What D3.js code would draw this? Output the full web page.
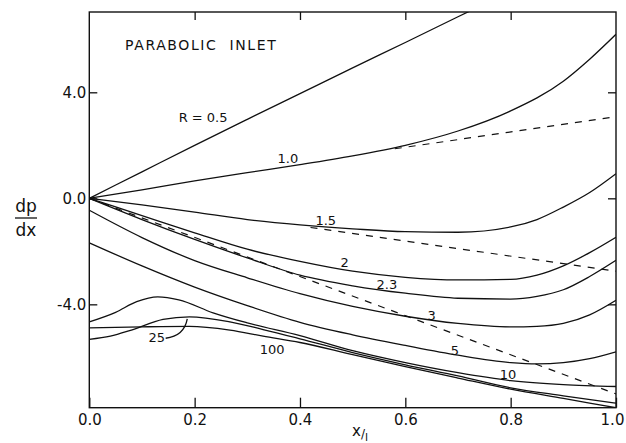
<!DOCTYPE html>
<html lang="en">
<head>
<meta charset="UTF-8">
<script src="https://d3js.org/d3.v7.min.js"></script>
<style>
  body { margin: 0; background: #fff; }
  text { font-family: "DejaVu Sans", sans-serif; fill: #111; }
</style>
</head>
<body>
<script>
// curves: [x/l, dp/dx]
const r0_5 = [[0,0],[0.1,1.0],[0.2,2.0],[0.3,2.98],[0.4,3.95],[0.5,4.92],[0.6,5.88],[0.7,6.85],[0.75,7.33]];
const r1_0 = [[0,0],[0.1,0.32],[0.2,0.66],[0.3,0.97],[0.4,1.27],[0.5,1.6],[0.6,2.0],[0.7,2.54],[0.8,3.3],[0.9,4.42],[0.95,5.25],[1.0,6.19]];
const r1_5 = [[0,0],[0.1,-0.25],[0.2,-0.52],[0.3,-0.8],[0.4,-1.0],[0.5,-1.15],[0.6,-1.26],[0.7,-1.28],[0.8,-1.08],[0.85,-0.8],[0.9,-0.33],[0.95,0.22],[1.0,0.93]];
const r2_0 = [[0,0],[0.1,-0.65],[0.2,-1.3],[0.3,-1.92],[0.4,-2.38],[0.5,-2.75],[0.6,-2.98],[0.7,-3.08],[0.8,-3.06],[0.85,-2.9],[0.9,-2.55],[0.95,-2.05],[1.0,-1.47]];
const r2_3 = [[0,0],[0.1,-0.8],[0.2,-1.55],[0.3,-2.25],[0.4,-2.9],[0.5,-3.3],[0.6,-3.58],[0.7,-3.77],[0.8,-3.8],[0.85,-3.7],[0.9,-3.45],[0.95,-2.95],[1.0,-2.34]];
const r3_0 = [[0,-0.45],[0.1,-1.48],[0.2,-2.35],[0.3,-3.0],[0.4,-3.6],[0.5,-4.08],[0.6,-4.45],[0.7,-4.72],[0.8,-4.85],[0.85,-4.83],[0.9,-4.72],[0.95,-4.4],[1.0,-3.85]];
const r5_0 = [[0,-1.68],[0.1,-2.55],[0.2,-3.35],[0.3,-4.05],[0.4,-4.68],[0.5,-5.15],[0.6,-5.55],[0.7,-5.92],[0.8,-6.2],[0.85,-6.25],[0.9,-6.2],[0.95,-6.05],[1.0,-5.79]];
const r10 = [[0,-4.66],[0.05,-4.3],[0.09,-3.9],[0.13,-3.72],[0.17,-3.83],[0.235,-4.32],[0.3,-4.7],[0.4,-5.18],[0.5,-5.75],[0.6,-6.2],[0.7,-6.58],[0.8,-6.88],[0.9,-7.03],[1.0,-7.1]];
const r25 = [[0,-5.32],[0.04,-5.2],[0.08,-4.97],[0.14,-4.57],[0.19,-4.47],[0.267,-4.66],[0.33,-4.95],[0.4,-5.3],[0.5,-5.82],[0.6,-6.28],[0.7,-6.7],[0.8,-7.15],[0.9,-7.45],[1.0,-7.73]];
const r100 = [[0,-4.89],[0.1,-4.85],[0.19,-4.83],[0.267,-4.97],[0.33,-5.2],[0.4,-5.44],[0.5,-5.9],[0.6,-6.35],[0.7,-6.78],[0.8,-7.2],[0.9,-7.55],[1.0,-7.9]];

// dashed reference lines
const dash1_0 = [[0.58,1.87],[1.0,3.08]];
const dash1_5 = [[0.42,-1.1],[1.0,-2.75]];
const dashAll = [[0,0],[1.0,-7.38]];

const xTicks = [0, 0.2, 0.4, 0.6, 0.8, 1.0];
const yTicks = [4, 0, -4];

const labels = [
  ["R = 0.5", 0.216, 3.05], ["1.0", 0.377, 1.5], ["1.5", 0.449, -0.83],
  ["2", 0.485, -2.41], ["2.3", 0.565, -3.24], ["3", 0.65, -4.41],
  ["5", 0.694, -5.73], ["10", 0.795, -6.63], ["25", 0.128, -5.27], ["100", 0.347, -5.69]
];

const W = 626, H = 443;
const margin = {left: 89.3, right: 10, top: 12, bottom: 35.3};

const svg = d3.select("body").append("svg").attr("width", W).attr("height", H);

const x = d3.scaleLinear().domain([0, 1]).range([margin.left, W - margin.right]);
const y = d3.scaleLinear().domain([-7.9, 7.03]).range([H - margin.bottom, margin.top]);

const fmt = d => d3.format(".1f")(d).replace("−", "-");

svg.append("clipPath").attr("id", "plot")
  .append("rect")
  .attr("x", x(0)).attr("y", y(7.03))
  .attr("width", x(1) - x(0)).attr("height", y(-7.9) - y(7.03));

const line = d3.line().x(d => x(d[0])).y(d => y(d[1])).curve(d3.curveMonotoneX);

const plot = svg.append("g").attr("clip-path", "url(#plot)");

[r0_5, r1_0, r1_5, r2_0, r2_3, r3_0, r5_0, r10, r25, r100].forEach(c => {
  plot.append("path").attr("d", line(c))
    .attr("fill", "none").attr("stroke", "#111").attr("stroke-width", 1.3);
});

[dash1_0, dash1_5, dashAll].forEach(c => {
  plot.append("path").attr("d", line(c))
    .attr("fill", "none").attr("stroke", "#111").attr("stroke-width", 1.2)
    .attr("stroke-dasharray", "7,7");
});

// frame
svg.append("rect")
  .attr("x", x(0)).attr("y", y(7.03))
  .attr("width", x(1) - x(0)).attr("height", y(-7.9) - y(7.03))
  .attr("fill", "none").attr("stroke", "#111").attr("stroke-width", 1.4);

// axes with inward ticks
svg.append("g").attr("transform", `translate(0,${y(-7.9)})`)
  .call(d3.axisBottom(x).tickValues(xTicks).tickSizeInner(-10).tickSizeOuter(0).tickPadding(7).tickFormat(fmt))
  .call(g => g.select(".domain").remove())
  .call(g => g.selectAll("text").style("font-size", "15px").attr("font-family", "DejaVu Sans"))
  .call(g => g.selectAll("text").filter(d => d === 1).attr("dx", -4));

svg.append("g").attr("transform", `translate(0,${y(7.03)})`)
  .call(d3.axisTop(x).tickValues([0.2, 0.4, 0.6, 0.8]).tickSizeInner(-8).tickSizeOuter(0).tickFormat(""))
  .call(g => g.select(".domain").remove());

svg.append("g").attr("transform", `translate(${x(0)},0)`)
  .call(d3.axisLeft(y).tickValues(yTicks).tickSizeInner(-8).tickSizeOuter(0).tickPadding(3).tickFormat(fmt))
  .call(g => g.select(".domain").remove())
  .call(g => g.selectAll("text").style("font-size", "15px").attr("font-family", "DejaVu Sans"));

svg.append("g").attr("transform", `translate(${x(1)},0)`)
  .call(d3.axisRight(y).tickValues(yTicks).tickSizeInner(-8).tickSizeOuter(0).tickFormat(""))
  .call(g => g.select(".domain").remove());

svg.selectAll(".tick line").attr("stroke", "#111").attr("stroke-width", 1.3);

// curve labels
svg.selectAll(".clabel").data(labels).join("text")
  .attr("class", "clabel")
  .attr("x", d => x(d[1])).attr("y", d => y(d[2]))
  .attr("text-anchor", "middle").attr("dominant-baseline", "central")
  .style("font-size", "13px")
  .text(d => d[0]);

// leader for 25
svg.append("path")
  .attr("d", `M${x(0.145)},${y(-5.28)} Q${x(0.18)},${y(-5.2)} ${x(0.186)},${y(-4.55)}`)
  .attr("fill", "none").attr("stroke", "#111").attr("stroke-width", 1.3);

svg.append("text").attr("x", x(0.068)).attr("y", y(5.8))
  .attr("dominant-baseline", "central").style("font-size", "14px").style("letter-spacing", "1.6px")
  .attr("xml:space", "preserve")
  .text("PARABOLIC  INLET");

// y-axis label dp/dx
svg.append("text").attr("x", 26).attr("y", 212).attr("text-anchor", "middle")
  .style("font-size", "17px").text("dp");
svg.append("line").attr("x1", 15).attr("x2", 37).attr("y1", 218).attr("y2", 218)
  .attr("stroke", "#111").attr("stroke-width", 1.3);
svg.append("text").attr("x", 26).attr("y", 236).attr("text-anchor", "middle")
  .style("font-size", "17px").text("dx");

// x-axis label x/l
const xl = svg.append("text").attr("x", 360).attr("y", 436).attr("text-anchor", "middle").style("font-size", "15px");
xl.append("tspan").text("x");
xl.append("tspan").attr("dy", 2).style("font-size", "12px").text("/");
xl.append("tspan").attr("dy", 3).style("font-size", "11px").text("l");
</script>
</body>
</html>
